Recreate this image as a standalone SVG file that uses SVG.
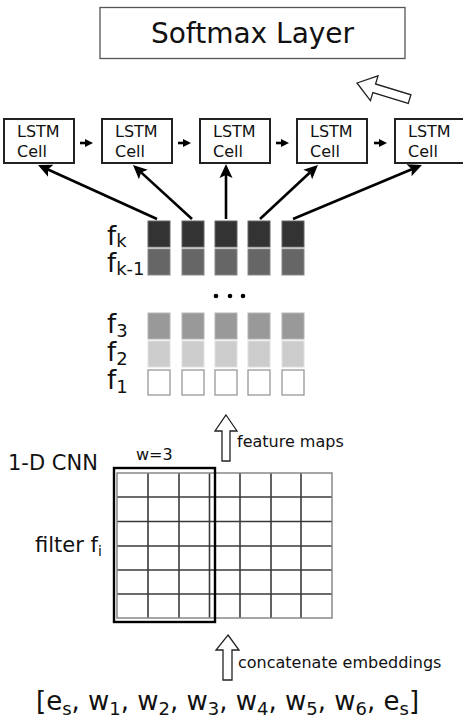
<svg xmlns="http://www.w3.org/2000/svg" width="463" height="725" viewBox="0 0 463 725">
<style>
text{font-family:"DejaVu Sans","Liberation Sans",sans-serif;fill:#111}
.cell{fill:#fff;stroke:#222;stroke-width:2}
.lt{font-size:16px}
.fl{font-size:26px}
.sub{font-size:18px}
.note{font-size:16px}
.conn{stroke:#000;stroke-width:2.6;fill:none}
.small{stroke:#000;stroke-width:2.6;fill:none}
.hollow{fill:#fff;stroke:#222;stroke-width:1.3;stroke-linejoin:miter}
.k{fill:#333;stroke:#666;stroke-width:1}
.k1{fill:#666;stroke:#888;stroke-width:1}
.f3{fill:#999;stroke:#b5b5b5;stroke-width:1}
.f2{fill:#ccc;stroke:#e0e0e0;stroke-width:1}
.f1{fill:#fff;stroke:#999;stroke-width:1.3}
.gi{stroke:#3a3a3a;stroke-width:1.6}
.go{fill:none;stroke:#888;stroke-width:1.5}
</style>
<defs>
<marker id="ah" markerUnits="userSpaceOnUse" markerWidth="20" markerHeight="16" viewBox="-4 -8 20 16" refX="0" refY="0" orient="auto">
<path d="M-3,-6.5 L11,0 L-3,6.5 L0,0 z" fill="#000"/>
</marker>
</defs>

<g id="softmax">
<rect x="100" y="7.5" width="305" height="51" fill="#fff" stroke="#555" stroke-width="1.3"/>
<text x="252.5" y="43" font-size="28" text-anchor="middle">Softmax Layer</text>
</g>
<g id="softmax-arrow">
<polygon class="hollow" transform="translate(357,83) rotate(17)" points="0,0 18,-13 18,-4.5 55,-4.5 55,4.5 18,4.5 18,13"/>
</g>

<g id="lstm1"><rect class="cell" x="4" y="119" width="70" height="44"/><text class="lt" x="17" y="137">LSTM</text><text class="lt" x="17" y="157">Cell</text></g>
<g id="lstm2"><rect class="cell" x="102" y="119" width="70" height="44"/><text class="lt" x="115" y="137">LSTM</text><text class="lt" x="115" y="157">Cell</text></g>
<g id="lstm3"><rect class="cell" x="200" y="119" width="70" height="44"/><text class="lt" x="213" y="137">LSTM</text><text class="lt" x="213" y="157">Cell</text></g>
<g id="lstm4"><rect class="cell" x="297" y="119" width="70" height="44"/><text class="lt" x="310" y="137">LSTM</text><text class="lt" x="310" y="157">Cell</text></g>
<g id="lstm5"><rect class="cell" x="395" y="119" width="70" height="44"/><text class="lt" x="408" y="137">LSTM</text><text class="lt" x="408" y="157">Cell</text></g>

<g id="feature-maps">
<text class="fl" x="107" y="245">f<tspan class="sub" dy="2">k</tspan></text>
<text class="fl" x="107" y="272">f<tspan class="sub" dy="3">k-1</tspan></text>
<text class="fl" x="107" y="333">f<tspan class="sub" dy="4">3</tspan></text>
<text class="fl" x="107" y="361">f<tspan class="sub" dy="4">2</tspan></text>
<text class="fl" x="107" y="389">f<tspan class="sub" dy="4">1</tspan></text>
<g>
<rect class="k" x="148" y="221" width="22" height="26"/><rect class="k" x="182" y="221" width="22" height="26"/><rect class="k" x="215" y="221" width="22" height="26"/><rect class="k" x="248" y="221" width="22" height="26"/><rect class="k" x="282" y="221" width="22" height="26"/>
<rect class="k1" x="148" y="249" width="22" height="26"/><rect class="k1" x="182" y="249" width="22" height="26"/><rect class="k1" x="215" y="249" width="22" height="26"/><rect class="k1" x="248" y="249" width="22" height="26"/><rect class="k1" x="282" y="249" width="22" height="26"/>
<rect class="f3" x="148" y="313" width="22" height="26"/><rect class="f3" x="182" y="313" width="22" height="26"/><rect class="f3" x="215" y="313" width="22" height="26"/><rect class="f3" x="248" y="313" width="22" height="26"/><rect class="f3" x="282" y="313" width="22" height="26"/>
<rect class="f2" x="148" y="341" width="22" height="26"/><rect class="f2" x="182" y="341" width="22" height="26"/><rect class="f2" x="215" y="341" width="22" height="26"/><rect class="f2" x="248" y="341" width="22" height="26"/><rect class="f2" x="282" y="341" width="22" height="26"/>
<rect class="f1" x="148" y="370" width="22" height="25"/><rect class="f1" x="182" y="370" width="22" height="25"/><rect class="f1" x="215" y="370" width="22" height="25"/><rect class="f1" x="248" y="370" width="22" height="25"/><rect class="f1" x="282" y="370" width="22" height="25"/>
</g>
<circle cx="216" cy="296" r="2.3" fill="#000"/><circle cx="230" cy="296" r="2.3" fill="#000"/><circle cx="243" cy="296" r="2.3" fill="#000"/>
</g>

<g id="cnn">
<text x="8" y="470" font-size="21">1-D CNN</text>
<text x="35" y="552" font-size="21">filter f<tspan font-size="14" dy="4">i</tspan></text>
<text class="note" x="136" y="460">w=3</text>
<g>
<line class="gi" x1="148" y1="473" x2="148" y2="618"/><line class="gi" x1="179" y1="473" x2="179" y2="618"/><line class="gi" x1="209.5" y1="473" x2="209.5" y2="618"/><line class="gi" x1="240" y1="473" x2="240" y2="618"/><line class="gi" x1="271" y1="473" x2="271" y2="618"/><line class="gi" x1="301" y1="473" x2="301" y2="618"/>
<line class="gi" x1="117" y1="497" x2="332" y2="497"/><line class="gi" x1="117" y1="521.5" x2="332" y2="521.5"/><line class="gi" x1="117" y1="546" x2="332" y2="546"/><line class="gi" x1="117" y1="570" x2="332" y2="570"/><line class="gi" x1="117" y1="594" x2="332" y2="594"/>
<rect class="go" x="117" y="473" width="215" height="145"/>
</g>
<rect x="114" y="468" width="101" height="154" fill="none" stroke="#000" stroke-width="2.4"/>
</g>

<g id="input">
<text x="36" y="710" font-size="26">[e<tspan class="sub" dy="5">s</tspan><tspan dy="-5">, w</tspan><tspan class="sub" dy="5">1</tspan><tspan dy="-5">, w</tspan><tspan class="sub" dy="5">2</tspan><tspan dy="-5">, w</tspan><tspan class="sub" dy="5">3</tspan><tspan dy="-5">, w</tspan><tspan class="sub" dy="5">4</tspan><tspan dy="-5">, w</tspan><tspan class="sub" dy="5">5</tspan><tspan dy="-5">, w</tspan><tspan class="sub" dy="5">6</tspan><tspan dy="-5">, e</tspan><tspan class="sub" dy="5">s</tspan><tspan dy="-5">]</tspan></text>
</g>

<g id="connectors">
<line class="conn" x1="157" y1="219" x2="48" y2="169.5" marker-end="url(#ah)"/>
<line class="conn" x1="192" y1="219" x2="141.1" y2="172.4" marker-end="url(#ah)"/>
<line class="conn" x1="226" y1="219" x2="226" y2="175" marker-end="url(#ah)"/>
<line class="conn" x1="260" y1="219" x2="309.9" y2="172.5" marker-end="url(#ah)"/>
<line class="conn" x1="293" y1="219" x2="411.8" y2="169.2" marker-end="url(#ah)"/>
<g>
<line class="small" x1="80" y1="143" x2="86" y2="143"/><polygon points="85,139 93,143 85,147" fill="#000"/>
<line class="small" x1="178" y1="143" x2="184" y2="143"/><polygon points="183,139 191,143 183,147" fill="#000"/>
<line class="small" x1="276" y1="143" x2="282" y2="143"/><polygon points="281,139 289,143 281,147" fill="#000"/>
<line class="small" x1="374" y1="143" x2="380" y2="143"/><polygon points="379,139 387,143 379,147" fill="#000"/>
</g>
<polygon class="hollow" points="226,415 237,431 230,431 230,461 222,461 222,431 215,431"/>
<text class="note" x="237" y="447">feature maps</text>
<polygon class="hollow" points="228,635 239,650 232,650 232,680 223,680 223,650 216,650"/>
<text class="note" x="238" y="668">concatenate embeddings</text>
</g>
</svg>
